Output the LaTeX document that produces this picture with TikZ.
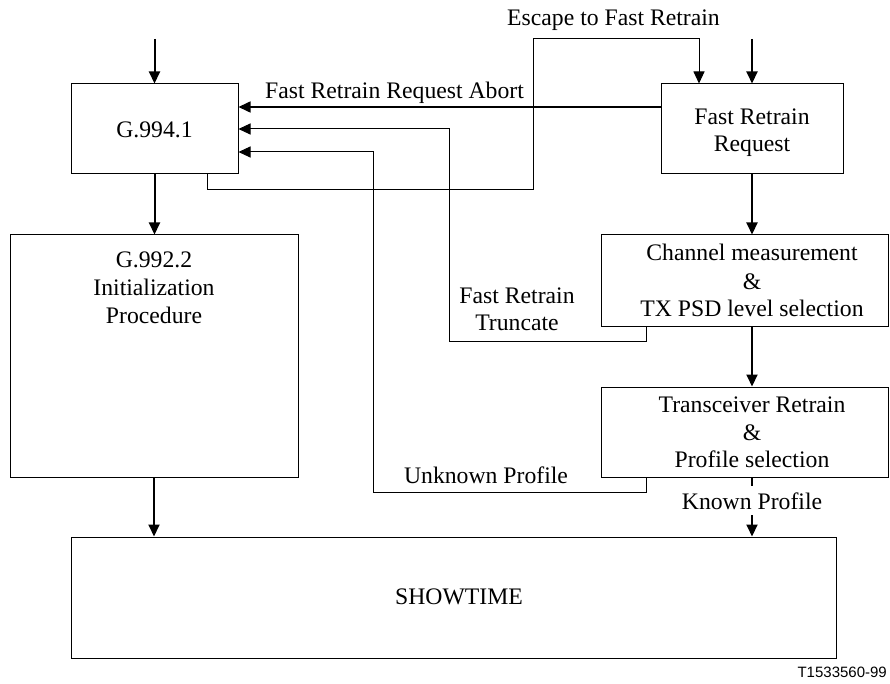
\documentclass[tikz,border=0pt]{standalone}
\usepackage{fontspec}
\setmainfont{Liberation Serif}
\newfontfamily\labsans{Liberation Sans}
\usetikzlibrary{arrows.meta}
\begin{document}
\begin{tikzpicture}[x=1pt,y=-1pt,
  box/.style={draw=black, line width=1pt, inner sep=0pt, rectangle},
  txt/.style={inner sep=0pt, font=\fontsize{23.7}{27.5}\selectfont},
  flow/.style={line width=2pt, -{Triangle[length=12pt,width=11pt]}},
  back/.style={line width=1pt, -{Triangle[length=12pt,width=11pt]}},
  abortline/.style={line width=1.6pt, -{Triangle[length=12pt,width=11pt]}},
]
\useasboundingbox (0,0) rectangle (890,684);

% boxes
\node[box, minimum width=167pt, minimum height=90pt] (g994) at (154.5,129) {};
\node[box, minimum width=182pt, minimum height=90pt] (frr) at (752,129) {};
\node[box, minimum width=288pt, minimum height=242pt] (g992) at (154,356) {};
\node[box, minimum width=287pt, minimum height=91pt] (chan) at (744.5,280.5) {};
\node[box, minimum width=287pt, minimum height=90pt] (trx) at (744.5,432) {};
\node[box, minimum width=765pt, minimum height=121pt] (show) at (453.5,597.5) {};

% texts
\node[txt, anchor=base] (tEsc) at (613.5,26) {Escape to Fast Retrain};
\node[txt, anchor=base west] (tAbort) at (265,99) {Fast Retrain Request Abort};
\node[txt, anchor=base] (tG994) at (154.5,138) {G.994.1};
\node[txt, anchor=base] (tFrr1) at (752,125) {Fast Retrain};
\node[txt, anchor=base] (tFrr2) at (752,152) {Request};
\node[txt, anchor=base] (tG992a) at (154,267) {G.992.2};
\node[txt, anchor=base] (tG992b) at (154,295) {Initialization};
\node[txt, anchor=base] (tG992c) at (154,323) {Procedure};
\node[txt, anchor=base] (tChan1) at (752,261) {Channel measurement};
\node[txt, anchor=base] (tChan2) at (752,289) {\&};
\node[txt, anchor=base] (tChan3) at (752,316) {TX PSD level selection};
\node[txt, anchor=base] (tTrunc1) at (517,303) {Fast Retrain};
\node[txt, anchor=base] (tTrunc2) at (517,330) {Truncate};
\node[txt, anchor=base] (tTrx1) at (752,412) {Transceiver Retrain};
\node[txt, anchor=base] (tTrx2) at (752,440) {\&};
\node[txt, anchor=base] (tTrx3) at (752,467) {Profile selection};
\node[txt, anchor=base] (tUnk) at (486,483) {Unknown Profile};
\node[txt, anchor=base] (tKnown) at (752,509) {Known Profile};
\node[txt, anchor=base] (tShow) at (459,604) {SHOWTIME};
\node[anchor=base east, inner sep=0pt, font=\labsans\fontsize{15}{18}\selectfont] (tId) at (887,677) {T1533560-99};

% helper coordinates
\coordinate (in1) at (154.5,39);
\coordinate (in2) at (752,39);
\coordinate (kp1) at (752,486);
\coordinate (kp2) at (752,515);
\coordinate (yab) at (0,107);
\coordinate (tA) at (646,341);
\coordinate (tB) at (449.5,341);
\coordinate (tC) at (449.5,129);
\coordinate (uA) at (646,492);
\coordinate (uB) at (373,492);
\coordinate (uC) at (373,152);
\coordinate (eA) at (207,190);
\coordinate (eB) at (533,190);
\coordinate (eC) at (533,39);
\coordinate (eD) at (699,39);

% main flow
\draw[flow] (in1) -- (g994);
\draw[flow] (in2) -- (frr);
\draw[flow] (g994.south) -- (g994.south |- g992.north);
\draw[flow] (frr.south) -- (frr.south |- chan.north);
\draw[flow] (frr.south |- chan.south) -- (frr.south |- trx.north);
\draw[flow] (g992.south) -- (g992.south |- show.north);
\draw[line width=2pt] (frr.south |- trx.south) -- (kp1);
\draw[flow] (kp2) -- (kp2 |- show.north);

% feedback paths
\draw[abortline] (frr.west |- yab) -- (g994.east |- yab);
\draw[back] (chan.south -| tA) -- (tA) -- (tB) -- (tC) -- (g994.east |- tC);
\draw[back] (trx.south -| uA) -- (uA) -- (uB) -- (uC) -- (g994.east |- uC);
\draw[back] (g994.south -| eA) -- (eA) -- (eB) -- (eC) -- (eD) -- (frr.north -| eD);
\end{tikzpicture}
\end{document}
